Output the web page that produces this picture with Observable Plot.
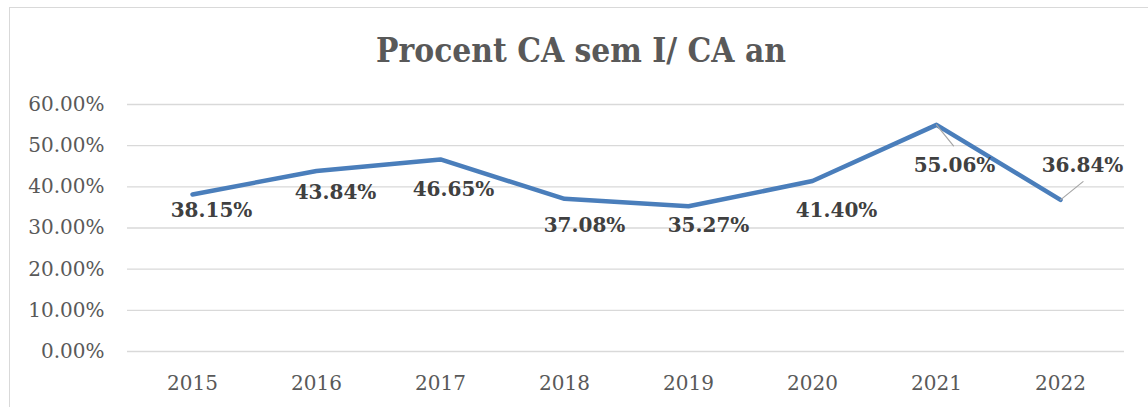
<!DOCTYPE html>
<html>
<head>
<meta charset="utf-8">
<script src="https://cdn.jsdelivr.net/npm/d3@7"></script>
<script src="https://cdn.jsdelivr.net/npm/@observablehq/plot@0.6"></script>
<style>
  html, body { margin: 0; padding: 0; background: #fff; }
  #wrap { position: relative; width: 1148px; height: 407px; overflow: hidden; }
  #frame { position: absolute; left: 9px; top: 7px; width: 1200px; height: 500px;
           border: 1px solid #d9d9d9; box-sizing: border-box; }
  #title { position: absolute; left: 9px; width: 1144px; top: 36px; height: 30px; line-height: 30px;
           text-align: center; font-family: 'DejaVu Serif Condensed', 'DejaVu Serif', serif; font-stretch: condensed;
           font-weight: bold; font-size: 33.2px; color: #595959; white-space: nowrap; }
  #chart { position: absolute; left: 0; top: 90px; }
</style>
</head>
<body>
<div id="wrap">
  <div id="frame"></div>
  <div id="title">Procent CA sem I/ CA an</div>
  <div id="chart"></div>
</div>
<script>
// ---- data ----
const years = ["2015", "2016", "2017", "2018", "2019", "2020", "2021", "2022"];
const values = [38.15, 43.84, 46.65, 37.08, 35.27, 41.40, 55.06, 36.84];
const yTicks = [0, 10, 20, 30, 40, 50, 60];
const valueLabels = ["38.15%", "43.84%", "46.65%", "37.08%", "35.27%", "41.40%", "55.06%", "36.84%"];

// ---- label placement (pixel offsets from each point) ----
const labelDx = [19, 19, 13, 20, 20, 24, 18, 22];
const labelDy = [16, 22, 30, 27, 19, 30, 41, -34];
// leader lines: index, length (px), rotation (deg)
const leaders = [
  {i: 6, length: 27, rotate: 141},
  {i: 7, length: 29, rotate: 51}
];

const data = years.map((year, i) => ({year, value: values[i], label: valueLabels[i]}));

const lineShape = {
  draw(context, l) { context.moveTo(0, 0); context.lineTo(0, -l); }
};

const labelMarks = data.map((d, i) => Plot.text([d], {
  x: "year", y: "value", text: "label",
  dx: labelDx[i], dy: labelDy[i],
  fontSize: 20, fontWeight: "bold", fill: "#404040",
  textAnchor: "middle", lineAnchor: "middle"
}));

const leaderMarks = leaders.map(L => Plot.vector([data[L.i]], {
  x: "year", y: "value", length: L.length, rotate: L.rotate,
  anchor: "start", shape: lineShape, stroke: "#a6a6a6", strokeWidth: 1.2, fill: "none"
}));

const chart = Plot.plot({
  width: 1148,
  height: 317,
  marginLeft: 127,
  marginRight: 24,
  marginTop: 14,
  marginBottom: 56,
  style: {fontFamily: "'DejaVu Serif', serif", background: "transparent", overflow: "visible"},
  x: {type: "point", domain: years, padding: 0.5},
  y: {domain: [0, 60]},
  marks: [
    Plot.ruleY(yTicks, {stroke: "#d9d9d9", strokeWidth: 1.4}),
    Plot.axisY(yTicks, {tickSize: 0, tickPadding: 23, tickFormat: d => d.toFixed(2) + "%",
      fontSize: 20, color: "#595959", label: null}),
    Plot.axisX({tickSize: 0, tickPadding: 24, fontSize: 20, color: "#595959", label: null}),
    Plot.line(data, {x: "year", y: "value", stroke: "#4a7ebb", strokeWidth: 4.5,
      strokeLinejoin: "round", strokeLinecap: "round"}),
    ...leaderMarks,
    ...labelMarks
  ]
});
document.getElementById("chart").appendChild(chart);
</script>
</body>
</html>
